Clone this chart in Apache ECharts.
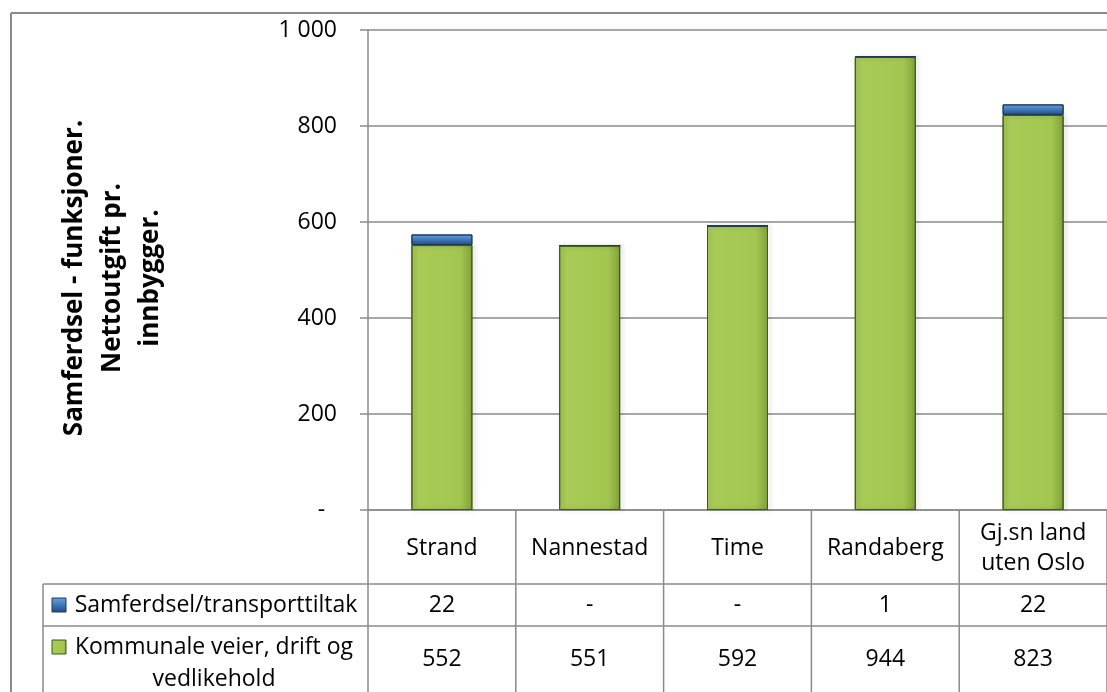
<!DOCTYPE html>
<html>
<head>
<meta charset="utf-8">
<script src="https://cdn.jsdelivr.net/npm/echarts@6/dist/echarts.min.js"></script>
<style>
  html, body { margin: 0; padding: 0; background: #fff; }
  #chart { width: 1107px; height: 692px; }
</style>
</head>
<body>
<div id="chart"></div>
<script>
// data
const categories = ['Strand', 'Nannestad', 'Time', 'Randaberg', 'Gj.sn land\nuten Oslo']
const transportName = 'Samferdsel/transporttiltak'
const veierName = 'Kommunale veier, drift og\nvedlikehold'
const transport = [22, 0, 0, 1, 22]
const veier = [552, 551, 592, 944, 823]
const yTicks = [0, 200, 400, 600, 800, 1000]

const FONT = '"Open Sans", sans-serif'
const LINE = '#8a8a8a'
const FS = 23

const chart = echarts.init(document.getElementById('chart'))

const fmt = (v) => {
  if (!v) return '-'
  return String(v).replace(/\B(?=(\d{3})+(?!\d))/g, ' ')
}

const greenFill = new echarts.graphic.LinearGradient(0, 0, 1, 0, [
  { offset: 0, color: '#a9cc58' },
  { offset: 0.8, color: '#a2c650' },
  { offset: 1, color: '#82a23a' },
])
const blueFill = new echarts.graphic.LinearGradient(0, 0, 0, 1, [
  { offset: 0, color: '#6aa2e0' },
  { offset: 0.5, color: '#3f78b8' },
  { offset: 1, color: '#24487a' },
])

chart.setOption({
  backgroundColor: '#fff',
  animation: false,
  grid: { left: 368, top: 30, width: 755, height: 480 },
  xAxis: {
    type: 'category',
    data: categories,
    axisLine: { show: true, lineStyle: { color: LINE, width: 1.5 } },
    axisTick: { show: false },
    axisLabel: { show: false },
  },
  yAxis: {
    type: 'value',
    min: yTicks[0],
    max: yTicks[yTicks.length - 1],
    interval: 200,
    name: 'Samferdsel - funksjoner.\nNettoutgift pr.\ninnbygger.',
    nameLocation: 'middle',
    nameRotate: 90,
    nameGap: 198,
    nameTextStyle: {
      fontFamily: FONT, fontSize: 26, fontWeight: 'bold', color: '#000',
      lineHeight: 38, align: 'center', padding: [0, 16, 0, 0],
    },
    axisLine: { show: true, lineStyle: { color: LINE, width: 1.5 } },
    axisTick: { show: true, length: 8, lineStyle: { color: LINE, width: 1.5 } },
    axisLabel: {
      margin: 31, fontFamily: FONT, fontSize: FS, color: '#000',
      // accounting style: zero shown as a dash set in from the right
      formatter: (v) => (v ? fmt(v) : '-  '),
    },
    splitLine: { show: true, lineStyle: { color: LINE, width: 1.5 } },
  },
  series: [
    {
      name: 'veier', type: 'bar', stack: 'tot', barWidth: 61, data: veier,
      itemStyle: {
        color: greenFill, borderColor: '#3d5a16', borderWidth: 1,
        shadowColor: 'rgba(0,0,0,0.25)', shadowBlur: 4, shadowOffsetX: 2,
      },
    },
    {
      name: 'transport', type: 'bar', stack: 'tot', barWidth: 61, data: transport,
      itemStyle: {
        color: blueFill, borderColor: '#1f3a5e', borderWidth: 1,
      },
    },
  ],
})

// data table under the plot, laid out from the grid / category axis
function drawTable() {
  const g = []
  const line = (x1, y1, x2, y2, w) => g.push({
    type: 'line', silent: true,
    shape: { x1, y1, x2, y2 },
    style: { stroke: LINE, lineWidth: w || 1.5 },
  })
  const text = (x, y, s, opt) => g.push({
    type: 'text', silent: true, x, y,
    style: Object.assign({
      text: s, fill: '#000', font: FS + 'px ' + FONT,
      align: 'center', verticalAlign: 'middle', lineHeight: 30,
    }, opt || {}),
  })

  const y0 = chart.convertToPixel({ yAxisIndex: 0 }, 0)
  const c0 = chart.convertToPixel({ xAxisIndex: 0 }, categories[0])
  const c1 = chart.convertToPixel({ xAxisIndex: 0 }, categories[1])
  const colW = c1 - c0
  const left = c0 - colW / 2
  const bottom = 692
  const rowA = y0 + 74
  const rowB = rowA + 42
  const legL = 43

  // borders of the chart area
  line(11, 13, 1107, 13, 2)
  line(11, 13, 11, bottom, 2)

  // table lines
  line(left, y0, left, bottom)
  categories.forEach((c, i) => line(left + (i + 1) * colW, y0, left + (i + 1) * colW, bottom))
  line(legL, rowA, 1107, rowA)
  line(legL, rowB, 1107, rowB)
  line(legL, rowA, legL, bottom)

  categories.forEach((c, i) => {
    const x = chart.convertToPixel({ xAxisIndex: 0 }, c)
    text(x, (y0 + rowA) / 2 + 1, c)
    text(x, (rowA + rowB) / 2, fmt(transport[i]))
    text(x, rowB + 33, fmt(veier[i]))
  })

  // legend keys and row names
  const keyX = 52
  g.push({
    type: 'rect', silent: true,
    shape: { x: keyX, y: (rowA + rowB) / 2 - 7, width: 14, height: 14 },
    style: { fill: blueFill, stroke: '#1f3a5e', lineWidth: 1 },
  })
  text(216, (rowA + rowB) / 2, transportName)
  g.push({
    type: 'rect', silent: true,
    shape: { x: keyX, y: rowB + 21 - 7, width: 14, height: 14 },
    style: { fill: greenFill, stroke: '#3d5a16', lineWidth: 1 },
  })
  text(214, rowB + 37, veierName, { lineHeight: 32 })

  chart.setOption({ graphic: g })
}
drawTable()
</script>
</body>
</html>
